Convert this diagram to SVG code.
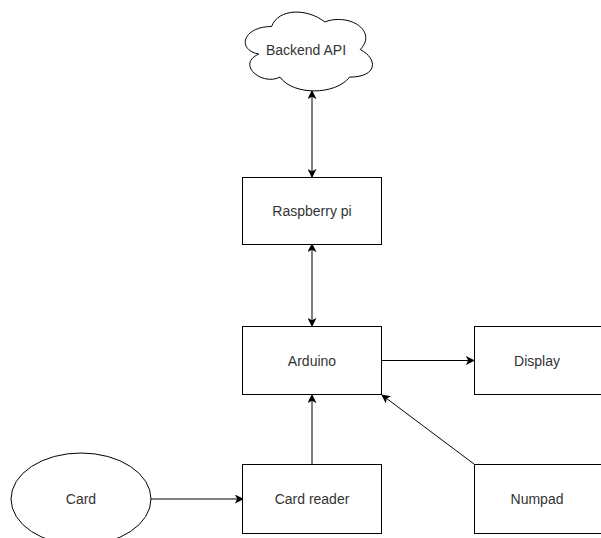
<svg xmlns="http://www.w3.org/2000/svg" width="601" height="538" viewBox="0 0 601 538">
<style>
.n{fill:#fff;stroke:#000;stroke-width:1}
.t{font-family:"Liberation Sans",Arial,sans-serif;font-size:14px;fill:#333;text-anchor:middle}
.e{fill:none;stroke:#000;stroke-width:1}
</style>
<defs>
<marker id="a" viewBox="0 0 10 10" refX="9" refY="5" markerWidth="9" markerHeight="9" orient="auto-start-reverse" markerUnits="userSpaceOnUse">
<path d="M0,0 L10,5 L0,10 L2.5,5 Z" fill="#000"/>
</marker>
</defs>
<rect width="601" height="538" fill="#fff"/>
<g id="connectors">
<line class="e" x1="312" y1="91" x2="312" y2="177" marker-start="url(#a)" marker-end="url(#a)"/>
<line class="e" x1="312" y1="244" x2="312" y2="326" marker-start="url(#a)" marker-end="url(#a)"/>
<line class="e" x1="382" y1="360.5" x2="474" y2="360.5" marker-end="url(#a)"/>
<line class="e" x1="312" y1="464" x2="312" y2="395" marker-end="url(#a)"/>
<line class="e" x1="474" y1="464" x2="382" y2="395" marker-end="url(#a)"/>
<line class="e" x1="151" y1="499" x2="243" y2="499" marker-end="url(#a)"/>
</g>
<g id="backend">
<path class="n" d="M271.5,26.5 C243.1,26.5 236,49.5 258.7,54.1 C236,64.2 261.6,86.3 280,77.1 C292.8,95.5 335.4,95.5 349.6,77.1 C378,77.1 378,58.7 360.25,49.5 C378,31.1 349.6,12.7 324.75,21.9 C307,8.1 278.6,8.1 271.5,26.5 Z"/>
<text class="t" x="306" y="55">Backend API</text>
</g>
<g id="raspberry">
<rect class="n" x="242.5" y="177.5" width="139" height="67"/>
<text class="t" x="312" y="216">Raspberry pi</text>
</g>
<g id="arduino">
<rect class="n" x="242.5" y="326.5" width="139" height="68"/>
<text class="t" x="312" y="366">Arduino</text>
</g>
<g id="display">
<rect class="n" x="474.5" y="326.5" width="140" height="68"/>
<text class="t" x="537" y="366">Display</text>
</g>
<g id="cardreader">
<rect class="n" x="242.5" y="464.5" width="139" height="69"/>
<text class="t" x="312" y="504">Card reader</text>
</g>
<g id="numpad">
<rect class="n" x="474.5" y="464.5" width="140" height="69"/>
<text class="t" x="537" y="504">Numpad</text>
</g>
<g id="card">
<ellipse class="n" cx="81" cy="499" rx="70" ry="46"/>
<text class="t" x="81" y="504">Card</text>
</g>
</svg>
